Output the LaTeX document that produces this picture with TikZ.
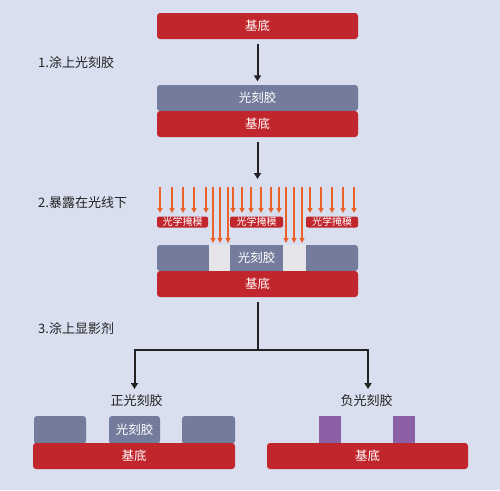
\documentclass[tikz,border=0pt]{standalone}
\usepackage{fontspec}
\setmainfont{Noto Sans CJK SC}
\usetikzlibrary{arrows.meta}
\definecolor{bg}{HTML}{D9DFEF}
\definecolor{subred}{HTML}{C1262D}
\definecolor{resist}{HTML}{737C9C}
\definecolor{purp}{HTML}{8B60A4}
\definecolor{gapc}{HTML}{E6E6EA}
\definecolor{lightor}{HTML}{E8622A}
\definecolor{ink}{HTML}{222222}
\tikzset{
  box/.style={rectangle, rounded corners=3pt, inner sep=0pt, text=white, font=\fontsize{12.5}{14}\selectfont},
  subbox/.style={box, fill=subred, minimum width=201pt, minimum height=26pt},
  resbox/.style={box, fill=resist, minimum height=26pt},
  maskbox/.style={box, fill=subred, rounded corners=2pt, minimum height=11pt, font=\fontsize{10}{11}\selectfont},
  gapbox/.style={rectangle, fill=gapc, inner sep=0pt, minimum height=26pt},
  purbox/.style={rectangle, fill=purp, inner sep=0pt, minimum width=22pt, minimum height=27pt},
  steplbl/.style={anchor=west, inner sep=0pt, text=ink, font=\fontsize{13}{15}\selectfont},
  lbl/.style={inner sep=0pt, text=ink, font=\fontsize{13}{15}\selectfont},
  conn/.style={draw=ink, line width=2pt, -{Triangle[length=6pt,width=7pt]}},
  line/.style={draw=ink, line width=2pt},
  ray/.style={draw=lightor, line width=1.5pt, -{Triangle[length=5pt,width=5pt]}},
}
\begin{document}
\begin{tikzpicture}[x=1pt,y=-1pt]
\fill[bg] (0,0) rectangle (500,490);
\useasboundingbox (0,0) rectangle (500,490);

% step 0
\node[subbox] (s1) at (257.5,26) {基底};
% step 1
\node[steplbl] (l1) at (38,63) {1.涂上光刻胶};
\node[resbox, minimum width=201pt] (r2) at (257.5,98) {光刻胶};
\node[subbox] (s2) at (257.5,124) {基底};
\draw[conn, shorten <=4.5pt, shorten >=3.5pt] (s1.south) -- (r2.north);

% step 2
\node[steplbl] (l2) at (38,203) {2.暴露在光线下};
\coordinate (a2) at (257.5,179);
\draw[conn, shorten <=4.5pt] (s2.south) -- (a2);

\node[resbox, minimum width=201pt] (r3) at (257.5,258) {};
\node[gapbox, minimum width=21pt] (g1) at (219.5,258) {};
\node[gapbox, minimum width=23pt] (g2) at (294.5,258) {};
\node[inner sep=0pt, text=white, font=\fontsize{12.5}{14}\selectfont] (r3t) at (256.5,258) {光刻胶};
\node[subbox] (s3) at (257.5,284) {基底};

\node[maskbox, minimum width=51pt] (m1) at (182.5,222) {光学掩模};
\node[maskbox, minimum width=53pt] (m2) at (256.5,222) {光学掩模};
\node[maskbox, minimum width=52pt] (m3) at (332,222) {光学掩模};

\foreach \x in {160,172,183,194,206}{\draw[ray] (\x,187) -- (\x,213);}
\foreach \x in {233,242,251,261,271,279}{\draw[ray] (\x,187) -- (\x,213);}
\foreach \x in {310,321,332,343,354}{\draw[ray] (\x,187) -- (\x,213);}
\foreach \x in {213,220,228}{\draw[ray] (\x,187) -- (\x,243);}
\foreach \x in {286,294,302}{\draw[ray] (\x,187) -- (\x,243);}

% step 3
\node[steplbl] (l3) at (38,329) {3.涂上显影剂};
\coordinate (b) at (257.5,350);
\coordinate (bl) at (134.5,350);
\coordinate (br) at (368,350);
\coordinate (blt) at (134.5,389);
\coordinate (brt) at (368,389);
\node[lbl] (pos) at (136.5,401) {正光刻胶};
\node[lbl] (neg) at (366.5,401) {负光刻胶};
\draw[line, shorten <=5pt] (s3.south) -- (b);
\draw[line, line cap=rect] (bl) -- (br);
\draw[conn] (bl) -- (blt);
\draw[conn] (br) -- (brt);

% positive result
\node[resbox, minimum width=52pt, minimum height=28pt] (p1) at (60,430) {};
\node[resbox, minimum width=51pt, minimum height=28pt] (p2) at (134.5,430) {光刻胶};
\node[resbox, minimum width=53pt, minimum height=28pt] (p3) at (208.5,430) {};
\node[subbox, minimum width=202pt] (ps) at (134,456) {基底};

% negative result
\node[purbox] (n1) at (330,429.5) {};
\node[purbox] (n2) at (404,429.5) {};
\node[subbox] (ns) at (367.5,456) {基底};
\end{tikzpicture}
\end{document}
